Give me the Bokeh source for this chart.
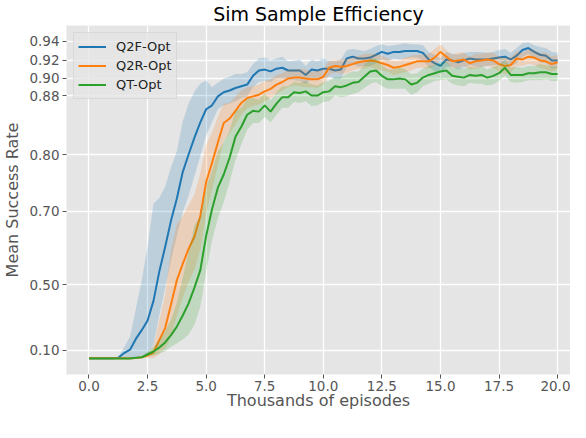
import numpy as np
from bokeh.plotting import figure
from bokeh.models import (Range1d, FixedTicker, CustomJSTickFormatter, PrintfTickFormatter,
                          Legend, LegendItem)
from bokeh.embed import file_html
from bokeh.resources import INLINE

# ---------------- data ----------------
episodes_k = np.arange(0, 20.001, 0.25)  # thousands of episodes (81 samples)

q2f_mean = [0.003, 0.003, 0.003, 0.003, 0.003, 0.008, 0.070, 0.108, 0.210, 0.276,
            0.337, 0.435, 0.546, 0.617, 0.680, 0.725, 0.772, 0.800, 0.825, 0.846,
            0.863, 0.868, 0.879, 0.884, 0.886, 0.889, 0.891, 0.893, 0.903, 0.909,
            0.910, 0.908, 0.911, 0.912, 0.909, 0.909, 0.909, 0.904, 0.910, 0.909,
            0.911, 0.911, 0.909, 0.910, 0.922, 0.924, 0.922, 0.922, 0.923, 0.926,
            0.929, 0.927, 0.929, 0.929, 0.930, 0.930, 0.930, 0.928, 0.921, 0.917,
            0.914, 0.921, 0.920, 0.918, 0.920, 0.922, 0.921, 0.921, 0.921, 0.922,
            0.923, 0.924, 0.921, 0.925, 0.931, 0.933, 0.929, 0.926, 0.925, 0.920,
            0.920]
q2f_std = [0.003, 0.003, 0.003, 0.003, 0.003, 0.010, 0.065, 0.120, 0.190, 0.240,
           0.280, 0.280, 0.180, 0.130, 0.100, 0.080, 0.075, 0.070, 0.060, 0.048,
           0.035, 0.022, 0.016, 0.016, 0.016, 0.016, 0.014, 0.014, 0.013, 0.013,
           0.013, 0.012, 0.011, 0.012, 0.010, 0.011, 0.012, 0.010, 0.011, 0.010,
           0.011, 0.009, 0.010, 0.011, 0.009, 0.008, 0.009, 0.008, 0.009, 0.009,
           0.008, 0.008, 0.007, 0.008, 0.008, 0.007, 0.007, 0.008, 0.008, 0.009,
           0.008, 0.008, 0.007, 0.008, 0.008, 0.007, 0.008, 0.008, 0.007, 0.007,
           0.008, 0.008, 0.007, 0.008, 0.007, 0.006, 0.007, 0.008, 0.008, 0.009,
           0.008]

q2r_mean = [0.003, 0.003, 0.003, 0.003, 0.003, 0.003, 0.003, 0.003, 0.005, 0.015,
            0.040, 0.072, 0.200, 0.290, 0.420, 0.517, 0.570, 0.612, 0.643, 0.690,
            0.755, 0.787, 0.818, 0.845, 0.851, 0.861, 0.871, 0.877, 0.879, 0.881,
            0.885, 0.888, 0.893, 0.896, 0.900, 0.901, 0.901, 0.900, 0.899, 0.899,
            0.902, 0.912, 0.914, 0.913, 0.914, 0.916, 0.918, 0.919, 0.920, 0.919,
            0.917, 0.915, 0.912, 0.913, 0.915, 0.917, 0.919, 0.919, 0.919, 0.923,
            0.929, 0.924, 0.919, 0.920, 0.921, 0.917, 0.919, 0.920, 0.921, 0.920,
            0.916, 0.914, 0.915, 0.922, 0.921, 0.924, 0.923, 0.920, 0.919, 0.916,
            0.918]
q2r_std = [0.003, 0.003, 0.003, 0.003, 0.003, 0.003, 0.003, 0.003, 0.005, 0.010,
           0.030, 0.070, 0.140, 0.170, 0.190, 0.155, 0.120, 0.100, 0.090, 0.080,
           0.060, 0.045, 0.035, 0.025, 0.020, 0.018, 0.015, 0.013, 0.012, 0.012,
           0.012, 0.011, 0.011, 0.010, 0.010, 0.009, 0.010, 0.010, 0.009, 0.010,
           0.009, 0.008, 0.007, 0.008, 0.008, 0.007, 0.007, 0.008, 0.007, 0.008,
           0.008, 0.007, 0.008, 0.007, 0.008, 0.008, 0.007, 0.007, 0.008, 0.009,
           0.008, 0.007, 0.007, 0.008, 0.007, 0.007, 0.008, 0.007, 0.007, 0.008,
           0.008, 0.009, 0.008, 0.008, 0.007, 0.008, 0.008, 0.008, 0.009, 0.008,
           0.008]

qt_mean = [0.000, 0.000, 0.000, 0.000, 0.000, 0.000, 0.000, 0.000, 0.010, 0.016,
           0.055, 0.088, 0.130, 0.180, 0.240, 0.300, 0.365, 0.425, 0.490, 0.550,
           0.645, 0.704, 0.745, 0.768, 0.795, 0.826, 0.840, 0.856, 0.861, 0.860,
           0.868, 0.860, 0.870, 0.878, 0.878, 0.884, 0.883, 0.885, 0.880, 0.880,
           0.884, 0.885, 0.891, 0.890, 0.892, 0.895, 0.896, 0.902, 0.908, 0.909,
           0.903, 0.899, 0.899, 0.900, 0.899, 0.893, 0.895, 0.901, 0.904, 0.906,
           0.908, 0.909, 0.903, 0.902, 0.901, 0.904, 0.903, 0.904, 0.901, 0.903,
           0.906, 0.912, 0.904, 0.904, 0.904, 0.906, 0.906, 0.907, 0.907, 0.905,
           0.905]
qt_std = [0.003, 0.003, 0.003, 0.003, 0.003, 0.003, 0.003, 0.003, 0.006, 0.015,
          0.030, 0.050, 0.070, 0.090, 0.100, 0.130, 0.160, 0.180, 0.180, 0.140,
          0.100, 0.070, 0.060, 0.050, 0.040, 0.035, 0.025, 0.020, 0.016, 0.015,
          0.015, 0.014, 0.014, 0.013, 0.013, 0.012, 0.012, 0.012, 0.013, 0.012,
          0.012, 0.012, 0.011, 0.012, 0.013, 0.013, 0.012, 0.013, 0.014, 0.013,
          0.012, 0.011, 0.011, 0.012, 0.011, 0.012, 0.011, 0.010, 0.010, 0.009,
          0.010, 0.010, 0.009, 0.010, 0.010, 0.009, 0.009, 0.010, 0.009, 0.010,
          0.009, 0.009, 0.008, 0.009, 0.008, 0.008, 0.008, 0.009, 0.008, 0.008,
          0.008]

series_names = ["Q2F-Opt", "Q2R-Opt", "QT-Opt"]
series_colors = ["#1f77b4", "#ff7f0e", "#2ca02c"]

y_tick_values = [0.10, 0.50, 0.70, 0.80, 0.88, 0.90, 0.92, 0.94]
y_tick_labels = ["0.10", "0.50", "0.70", "0.80", "0.88", "0.90", "0.92", "0.94"]
x_tick_values = [0.0, 2.5, 5.0, 7.5, 10.0, 12.5, 15.0, 17.5, 20.0]


# warped (expanding) y scale used by the original figure
def warp(v):
    v = np.asarray(v, dtype=float)
    return np.exp(3.0 * v) + 0.6 * v


p = figure(width=570, height=412, output_backend="svg", toolbar_location=None,
           x_range=Range1d(-0.96, 20.55), y_range=Range1d(0.17, 18.15),
           min_border_left=61, min_border_right=0, min_border_top=17,
           min_border_bottom=30,
           background_fill_color="#E5E5E5", border_fill_color="white",
           outline_line_color=None)

p.title.text = "Sim Sample Efficiency"
p.title.align = "center"
p.title.text_font = "DejaVu Sans"
p.title.text_font_size = "19px"
p.title.text_font_style = "normal"
p.title.text_color = "#000000"
p.title.standoff = 1

# grid
for g in (p.xgrid, p.ygrid):
    g.grid_line_color = "white"
    g.grid_line_width = 1.3

# axes
tpos = [float(t) for t in warp(y_tick_values)]
p.yaxis.ticker = FixedTicker(ticks=tpos)
p.yaxis.formatter = CustomJSTickFormatter(
    args=dict(pos=tpos, lab=y_tick_labels),
    code="""
let b = 0;
for (let i = 0; i < pos.length; i++) {
  if (Math.abs(pos[i] - tick) < Math.abs(pos[b] - tick)) b = i;
}
return lab[b];
""")
p.xaxis.ticker = FixedTicker(ticks=x_tick_values)
p.xaxis.formatter = PrintfTickFormatter(format="%.1f")

p.xaxis.axis_label = "Thousands of episodes"
p.yaxis.axis_label = "Mean Success Rate"
for ax in (p.xaxis[0], p.yaxis[0]):
    ax.axis_line_color = None
    ax.major_tick_line_color = "#555555"
    ax.major_tick_out = 4
    ax.major_tick_in = 0
    ax.minor_tick_line_color = None
    ax.major_label_text_color = "#555555"
    ax.major_label_text_font = "DejaVu Sans"
    ax.major_label_text_font_size = "13.5px"
    ax.axis_label_text_font = "DejaVu Sans"
    ax.axis_label_text_font_size = "16px"
    ax.axis_label_text_font_style = "normal"
    ax.axis_label_text_color = "#555555"
p.xaxis.major_label_standoff = 2
p.xaxis.axis_label_standoff = -3
p.yaxis.major_label_standoff = 3
p.yaxis.axis_label_standoff = 4

means = [q2f_mean, q2r_mean, qt_mean]
stds = [q2f_std, q2r_std, qt_std]
items = []
for name, col, m, s in zip(series_names, series_colors, means, stds):
    m = np.asarray(m)
    s = np.asarray(s)
    p.varea(x=episodes_k, y1=warp(m - s), y2=warp(m + s),
            fill_color=col, fill_alpha=0.2)
    r = p.line(x=episodes_k, y=warp(m), line_color=col, line_width=2)
    items.append(LegendItem(label=name, renderers=[r]))

legend = Legend(items=items, location="top_left")
legend.margin = 7
legend.padding = 4
legend.spacing = 0
legend.glyph_width = 28
legend.glyph_height = 19
legend.label_height = 19
legend.label_standoff = 10
legend.label_text_font = "DejaVu Sans"
legend.label_text_font_size = "13px"
legend.label_text_color = "#222222"
legend.background_fill_color = "#E5E5E5"
legend.background_fill_alpha = 0.8
legend.border_line_color = "#cccccc"
legend.border_line_width = 1
p.add_layout(legend)

open("out.html", "w").write(file_html(p, INLINE))
